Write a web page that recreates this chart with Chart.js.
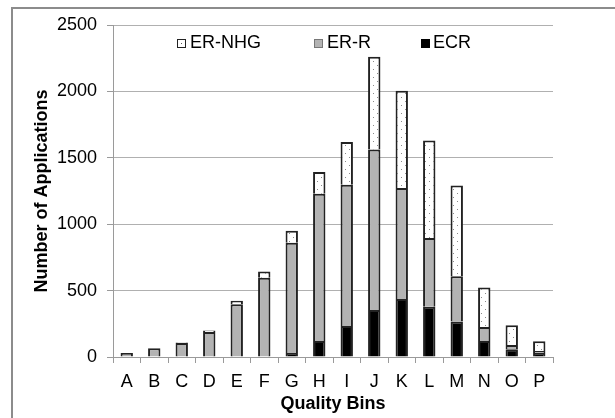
<!DOCTYPE html>
<html>
<head>
<meta charset="utf-8">
<script src="https://cdn.jsdelivr.net/npm/chart.js@4"></script>
<style>
  html, body { margin: 0; padding: 0; background: #fff; }
  #wrap { position: relative; width: 615px; height: 418px; overflow: hidden; font-family: "Liberation Sans", Arial, sans-serif; }
  #frame { position: absolute; left: 11px; top: 7px; width: 700px; height: 500px; border-left: 2px solid #8c8c8c; border-top: 2px solid #8c8c8c; pointer-events: none; }
  canvas { position: absolute; left: 0; top: 0; }
  .leg { position: absolute; top: 33px; font-size: 18px; color: #000; line-height: 18px; white-space: nowrap; }
  .box { position: absolute; top: 6px; width: 7px; height: 7px; border: 1px solid #222; }
</style>
</head>
<body>
<div id="wrap">
  <canvas id="c" width="615" height="418"></canvas>
  <div id="frame"></div>
  <div class="leg" style="left:190px;"><span id="nhgbox" class="box" style="left:-13px;background:#fff;"></span>ER-NHG</div>
  <div class="leg" style="left:327px;"><span class="box" style="left:-13px;background:#b3b3b3;border-color:#777;"></span>ER-R</div>
  <div class="leg" style="left:433px;"><span class="box" style="left:-12px;background:#000;border-color:#000;"></span>ECR</div>
</div>
<script>
const categories = ["A","B","C","D","E","F","G","H","I","J","K","L","M","N","O","P"];
const ecr    = [0, 0, 0, 0, 0, 0, 30, 120, 233, 353, 436, 378, 268, 120, 58, 30];
const erR    = [30, 65, 105, 188, 398, 596, 830, 1110, 1064, 1209, 836, 519, 340, 105, 32, 15];
const erNhg  = [0, 0, 5, 12, 25, 47, 91, 164, 322, 698, 733, 733, 684, 298, 150, 73];
const yTicks = [0, 500, 1000, 1500, 2000, 2500];

function dotPattern() {
  const p = document.createElement('canvas');
  p.width = 8; p.height = 8;
  const g = p.getContext('2d');
  g.fillStyle = '#ffffff';
  g.fillRect(0, 0, 8, 8);
  g.fillStyle = '#8a8a8a';
  g.fillRect(1, 1, 1, 1);
  g.fillRect(5, 5, 1, 1);
  return g.createPattern(p, 'repeat');
}
const ctx = document.getElementById('c').getContext('2d');
const pat = dotPattern();

const FONT = "'Liberation Sans', Arial, sans-serif";
new Chart(ctx, {
  type: 'bar',
  data: {
    labels: categories,
    datasets: [
      { label: 'ECR', data: ecr, backgroundColor: '#000000', borderColor: '#222', borderWidth: 2 },
      { label: 'ER-R', data: erR, backgroundColor: '#b3b3b3', borderColor: '#222', borderWidth: 2 },
      { label: 'ER-NHG', data: erNhg, backgroundColor: pat, borderColor: '#222', borderWidth: 2 }
    ]
  },
  options: {
    responsive: false,
    animation: false,
    datasets: { bar: { barPercentage: 0.45, categoryPercentage: 1.0 } },
    layout: { padding: { left: 0, right: 62, top: 25, bottom: 0 } },
    plugins: { legend: { display: false }, tooltip: { enabled: false } },
    scales: {
      x: {
        stacked: true,
        grid: { offset: true, drawOnChartArea: false, color: '#9a9a9a', tickLength: 6 },
        border: { color: '#9a9a9a', width: 1 },
        ticks: { color: '#000', font: { family: FONT, size: 18 }, padding: 8, maxRotation: 0 },
        title: { display: true, text: 'Quality Bins', color: '#000', font: { family: FONT, size: 18, weight: 'bold' }, padding: { top: 2, bottom: 3 } },
        afterFit: (s) => { s.height = 61; }
      },
      y: {
        stacked: true,
        min: 0, max: 2500,
        afterBuildTicks: (s) => { s.ticks = yTicks.map(v => ({ value: v })); },
        grid: { color: '#b0b0b0', tickLength: 6, tickColor: '#9a9a9a' },
        border: { color: '#9a9a9a', width: 1 },
        ticks: { color: '#000', font: { family: FONT, size: 18 }, padding: 10, callback: (v) => String(v) },
        title: { display: true, text: 'Number of Applications', color: '#000', font: { family: FONT, size: 18, weight: 'bold' }, padding: { top: 31, bottom: 0 } },
        afterFit: (s) => { s.width = 113; }
      }
    }
  }
});
const nb = document.getElementById('nhgbox');
nb.style.background = 'radial-gradient(circle, #555 0.8px, #fff 1px)';
</script>
</body>
</html>
